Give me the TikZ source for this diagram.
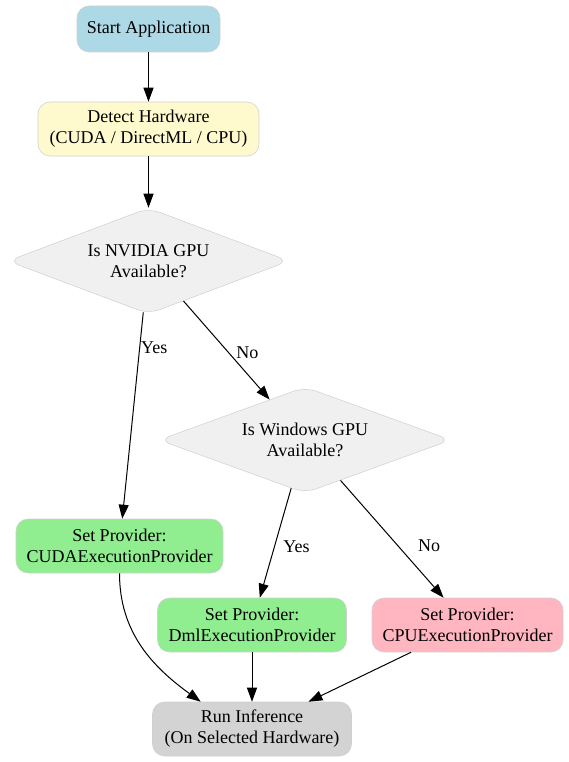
\documentclass[tikz,border=0pt]{standalone}
\usepackage{fontspec}
\setmainfont{Liberation Serif}
\usetikzlibrary{positioning}
\usetikzlibrary{shapes.geometric}
\usetikzlibrary{arrows.meta}

\definecolor{startblue}{HTML}{ADD8E6}
\definecolor{detectyellow}{HTML}{FFFACD}
\definecolor{decisiongray}{HTML}{F0F0F0}
\definecolor{providergreen}{HTML}{90EE90}
\definecolor{cpupink}{HTML}{FFB6C1}
\definecolor{rungray}{HTML}{D3D3D3}
\definecolor{bordergray}{HTML}{D0D0D0}

\begin{document}
\begin{tikzpicture}[
                          x=0.75pt, y=-0.75pt,
                          font=\fontsize{13.5}{15.75}\selectfont,
                          boxnode/.style={rectangle, rounded corners=9pt, draw=bordergray, align=center, minimum height=40.5pt, inner sep=2pt},
                          decisionnode/.style={diamond, shape aspect=2.64, rounded corners=9pt, draw=bordergray, fill=decisiongray, align=center, inner sep=0pt},
                          flow/.style={-{Triangle[length=10.5pt,width=7.5pt]}, line width=0.75pt},
                          edgelabel/.style={inner sep=0pt, anchor=center},
                      ]
                      \useasboundingbox (0,0) rectangle (568,762);

                      %Nodes
                      \node[boxnode, fill=startblue, minimum width=107.25pt, minimum height=34.5pt] (start)   at (148.5,29)  {Start Application};
                      \node[boxnode, fill=detectyellow, minimum width=165.75pt] (detect)  at (148.5,129) {Detect Hardware\\(CUDA / DirectML / CPU)};
                      \node[decisionnode, minimum width=211pt, minimum height=79.5pt] (nvidia)  at (148.5,261) {Is NVIDIA GPU\\Available?};
                      \node[decisionnode, minimum width=219pt, minimum height=79.5pt] (windows) at (305,440)   {Is Windows GPU\\Available?};
                      \node[boxnode, fill=providergreen, minimum width=155.25pt] (cuda)    at (119.5,546) {Set Provider:\\CUDAExecutionProvider};
                      \node[boxnode, fill=providergreen, minimum width=141.75pt] (dml)     at (252,625)   {Set Provider:\\DmlExecutionProvider};
                      \node[boxnode, fill=cpupink, minimum width=143.25pt] (cpu)     at (467.5,625) {Set Provider:\\CPUExecutionProvider};
                      \node[boxnode, fill=rungray, minimum width=149.25pt] (run)     at (252,729)   {Run Inference\\(On Selected Hardware)};

                      %Lines
                      \draw[flow] (start) -- (detect);
                      \draw[flow] (detect) -- (nvidia);
                      \draw[flow] (nvidia) -- node[edgelabel, pos=0.17, xshift=10.9pt] {Yes} (cuda);
                      \draw[flow] (nvidia) -- node[edgelabel, pos=0.52, xshift=14.25pt] {No} (windows);
                      \draw[flow] (windows) -- node[edgelabel, pos=0.53, xshift=16.5pt] {Yes} (dml);
                      \draw[flow] (windows) -- node[edgelabel, pos=0.56, xshift=23.25pt] {No} (cpu);
                      \draw[flow] (cuda.south) to[out=-90, in=144] (run.152);
                      \draw[flow] (dml) -- (run);
                      \draw[flow] (cpu) -- (run);
                  \end{tikzpicture}
\end{document}
